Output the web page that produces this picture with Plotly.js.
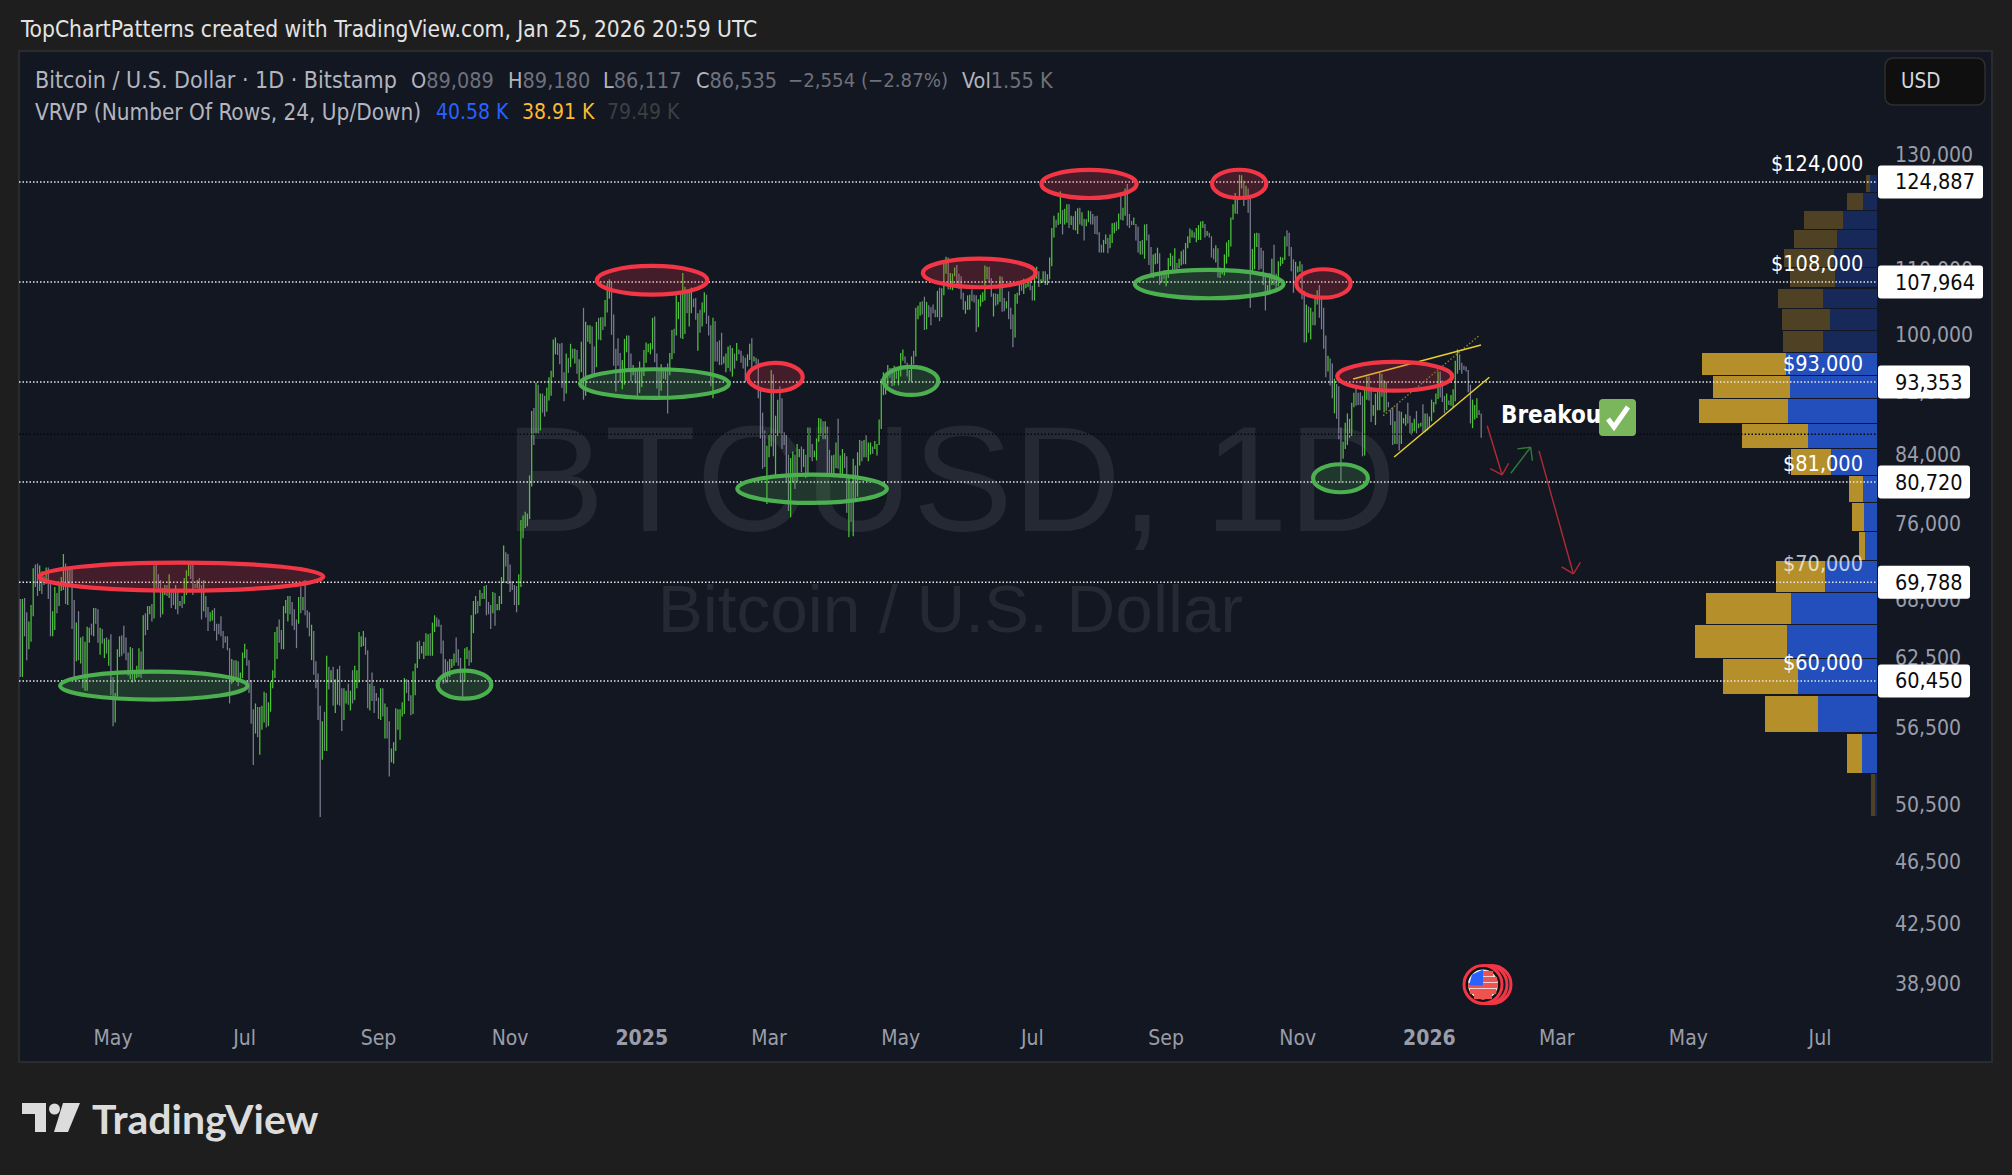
<!DOCTYPE html>
<html>
<head>
<meta charset="utf-8">
<script src="https://cdn.plot.ly/plotly-3.0.1.min.js"></script>
<style>html,body{margin:0;padding:0;background:#1e1e1e}</style>
</head>
<body>
<div id="chart" style="width:2012px;height:1175px"></div>
<script>
// daily bars, one row per month, price in thousands of dollars. first bar is 2024-03-19
const firstBar = "2024-03-19"
const barLowK = [
60.8,60.8,64.5,62.3,63.3,64.0,66.4,69.3,68.4,68.9,68.6,69.5,69.6,
68.1,64.5,64.5,65.1,66.7,67.4,68.9,69.0,67.6,67.5,69.6,65.2,60.8,62.2,62.3,62.0,59.8,59.6,59.6,63.9,64.6,64.5,65.7,63.9,62.8,63.8,62.5,62.9,61.8,59.2,
56.6,56.9,58.8,62.6,62.7,62.9,62.3,60.9,60.6,60.3,60.5,60.7,60.8,60.7,61.3,64.6,65.1,66.6,65.9,66.2,69.2,69.1,66.3,66.6,68.5,68.4,68.2,67.2,67.5,67.1,66.6,
67.4,67.2,67.6,68.5,70.4,70.1,68.5,69.2,69.2,69.1,66.1,66.9,66.3,65.0,65.9,66.0,65.0,64.1,64.7,64.5,63.4,63.9,63.2,58.5,60.2,60.7,60.6,60.0,60.4,60.7,
62.5,61.8,59.4,56.8,53.5,56.0,55.7,54.3,56.3,56.9,56.5,56.6,57.8,59.8,60.7,62.4,63.9,63.3,63.3,66.7,65.9,66.6,65.5,65.1,63.4,65.7,66.7,67.0,66.5,65.3,64.5,
62.3,61.0,59.8,57.1,49.6,53.9,54.6,54.6,59.7,60.3,58.3,57.7,58.4,58.3,56.2,57.1,58.5,58.4,57.9,58.5,58.8,59.8,60.3,63.5,63.6,62.8,58.1,57.9,58.7,57.7,58.7,
57.2,57.1,57.4,55.6,55.6,52.6,53.7,53.6,54.6,56.3,55.5,57.4,57.6,59.4,58.7,57.5,57.6,59.2,61.6,62.4,62.9,62.4,62.7,62.7,62.7,62.7,64.9,65.4,65.4,62.9,
60.2,60.3,60.3,60.8,61.6,61.8,62.1,61.8,60.3,58.9,60.4,62.4,61.8,62.1,64.8,66.6,66.7,67.4,68.1,68.1,66.5,66.6,65.2,66.7,65.5,67.0,67.0,67.6,69.7,71.4,69.6,
68.8,69.0,67.5,66.8,67.5,69.3,74.4,75.5,75.7,76.5,80.2,85.2,86.7,86.6,87.0,89.3,88.8,89.4,90.9,91.5,94.0,97.2,97.1,95.8,92.6,90.8,91.8,94.6,95.4,96.6,
95.9,94.5,93.6,94.7,91.0,91.5,99.0,98.7,94.2,94.2,95.4,99.3,99.2,100.7,101.2,103.3,105.4,100.0,95.6,92.1,95.6,93.4,92.4,93.0,97.5,95.2,93.5,94.3,93.2,91.3,91.9,
92.7,94.2,96.0,97.5,97.2,97.9,96.1,92.5,91.2,92.2,93.8,93.7,89.2,94.3,96.5,97.3,99.9,102.3,99.5,99.4,100.1,103.2,101.2,103.2,104.1,102.2,97.7,100.3,101.2,103.3,101.6,
99.9,92.8,91.2,96.2,96.2,95.7,95.7,95.9,94.7,95.3,94.8,94.1,95.2,96.3,97.2,96.0,95.2,93.3,95.5,96.4,94.8,96.2,95.8,91.2,86.0,82.3,82.5,78.2,
83.7,85.0,83.8,81.5,86.3,86.7,84.7,85.2,80.7,77.4,76.7,80.7,79.9,80.8,83.7,81.9,82.5,81.2,81.7,83.7,83.2,83.7,83.3,85.6,86.3,85.9,85.9,81.6,81.5,81.6,81.3,
82.4,82.3,81.2,81.6,82.4,77.2,74.5,76.2,74.6,78.5,79.0,82.7,83.2,83.7,83.7,83.2,84.0,84.1,84.7,83.9,85.2,87.2,91.6,91.7,92.9,93.9,92.8,92.9,93.8,92.9,
94.1,96.3,95.9,94.1,93.5,93.4,95.8,96.9,102.3,102.8,103.0,100.7,100.8,102.6,101.4,103.2,102.6,102.6,102.0,102.6,105.9,109.3,106.8,106.8,106.7,108.9,107.5,106.9,105.3,103.7,103.1,
103.7,103.7,105.0,104.8,100.4,101.1,104.2,104.9,105.1,108.4,108.0,105.7,102.7,104.3,104.5,104.9,103.4,103.5,103.9,102.3,100.8,98.2,99.6,104.6,105.9,106.6,106.1,107.0,107.2,106.7,
105.1,105.1,108.5,107.2,107.8,107.9,107.5,107.5,108.4,110.5,115.2,116.9,117.3,117.5,115.7,117.4,117.7,116.8,117.3,116.5,116.4,115.8,117.4,117.2,114.7,117.1,117.8,117.4,117.4,115.8,115.7,
112.7,112.7,112.7,114.1,112.6,113.4,114.3,115.9,116.3,116.6,118.2,118.1,118.9,117.2,116.8,117.3,117.3,114.7,112.7,112.4,112.4,111.7,114.7,110.7,108.7,108.6,110.8,110.9,107.5,107.9,108.4,
107.3,108.6,110.5,109.3,110.0,109.9,110.2,110.6,110.8,110.8,113.4,114.3,115.2,115.1,114.4,114.8,114.8,116.8,115.2,115.5,115.2,111.9,111.6,111.1,108.7,108.6,109.2,109.0,110.9,112.0,
113.7,118.2,119.3,119.2,122.0,123.7,120.6,121.7,119.4,104.0,109.6,110.0,113.6,109.9,110.1,107.5,103.6,106.2,106.2,107.5,107.5,106.7,107.3,110.5,110.9,111.5,113.7,112.1,109.7,106.3,108.2,
109.5,109.6,105.3,98.9,98.9,100.3,99.3,101.4,101.4,104.5,102.5,100.8,98.0,94.0,94.8,92.9,91.2,89.2,88.5,85.9,80.6,83.5,84.7,85.2,86.1,86.3,90.0,90.2,90.3,90.3,
83.8,83.9,91.0,90.9,88.1,88.9,87.7,89.6,89.6,91.4,89.3,89.5,90.0,87.7,85.2,85.3,85.3,84.5,85.3,87.9,87.6,87.9,86.6,86.4,86.9,86.6,87.3,87.5,86.8,86.8,87.0,
87.4,88.2,89.3,90.4,91.1,91.3,90.7,89.2,89.6,90.3,90.2,90.0,90.8,94.5,95.0,94.5,95.0,94.8,92.0,87.9,87.3,88.4,88.6,89.0,86.1
]
const barHighK = [
68.1,68.1,68.2,66.8,65.9,67.5,71.2,71.6,71.7,71.5,70.9,70.4,71.3,
71.3,69.7,66.9,69.3,68.7,69.6,70.3,72.7,71.7,71.2,71.3,71.2,68.0,65.8,66.9,64.4,64.5,64.0,65.4,65.3,65.7,67.2,67.2,67.1,65.3,65.2,64.3,64.4,64.2,64.7,
60.8,59.4,63.3,64.5,64.6,65.5,64.4,63.0,63.5,63.4,61.4,61.8,63.4,63.1,66.5,66.7,67.4,67.4,67.6,71.5,71.9,70.6,70.0,69.2,69.5,69.5,70.6,69.0,68.9,69.5,69.0,
67.9,68.4,70.2,71.0,71.7,71.6,71.9,69.6,70.0,70.2,69.5,70.0,68.4,67.3,66.8,67.0,67.2,65.7,65.7,66.4,65.0,64.5,64.5,63.4,62.4,62.3,62.3,62.2,61.2,63.0,
63.8,63.3,62.3,60.5,58.0,58.5,58.2,58.2,58.3,59.5,59.4,58.6,60.4,61.4,64.9,65.4,66.1,65.1,67.4,68.0,68.4,68.4,67.8,67.1,66.1,68.3,69.3,68.3,70.0,67.0,66.8,
65.6,65.0,62.2,61.1,58.3,57.0,57.8,62.7,61.7,61.4,61.7,60.6,61.5,61.8,59.8,59.8,59.6,60.2,59.6,61.4,61.8,61.4,64.9,64.5,65.0,64.4,63.2,60.2,61.2,60.0,59.4,
59.0,59.8,59.8,58.5,58.2,57.0,54.8,55.3,58.1,58.0,58.0,58.6,60.7,60.6,60.4,59.2,61.3,62.0,64.0,64.1,63.6,64.0,64.8,64.7,64.8,65.8,66.5,66.3,66.1,65.6,
64.1,62.4,62.2,62.4,62.4,62.9,64.4,63.3,62.5,61.3,63.4,63.5,63.2,66.5,67.9,68.4,67.9,69.0,68.7,69.4,69.5,67.8,67.5,68.8,68.7,67.6,68.4,70.3,73.6,72.9,72.7,
71.6,69.9,69.5,69.4,70.6,76.4,76.9,77.3,77.1,81.5,89.5,89.9,93.3,93.0,91.8,91.8,91.5,92.6,94.0,94.9,99.3,99.6,98.8,98.7,98.8,94.7,97.3,96.7,98.7,98.0,
98.0,97.8,96.5,99.0,104.0,101.9,101.4,101.4,101.2,98.3,101.9,102.5,102.6,102.6,105.2,107.8,108.4,108.0,103.0,98.0,99.5,97.4,96.4,99.4,99.9,99.9,97.3,95.7,95.3,94.9,96.2,
94.9,97.8,98.9,98.7,98.8,102.5,102.7,97.3,95.3,95.8,95.0,95.4,95.9,97.4,100.7,100.9,105.9,104.9,106.3,109.4,107.2,106.3,106.9,107.1,105.4,105.5,103.2,103.7,104.8,106.4,106.0,
102.8,101.4,102.5,102.0,99.0,99.2,100.3,96.9,97.3,98.3,98.5,98.1,97.3,98.8,97.9,97.7,97.0,96.7,97.2,98.7,99.5,96.9,96.7,96.5,92.5,89.3,87.0,85.1,
86.5,95.0,94.4,88.9,91.0,92.8,91.2,86.8,86.5,84.0,83.6,84.4,84.0,85.3,84.7,85.0,84.7,84.0,87.4,87.4,85.3,84.5,86.0,88.6,88.5,88.2,88.2,87.5,84.6,83.9,84.0,
85.5,88.5,83.9,84.7,84.2,83.8,81.2,80.8,83.5,82.7,84.3,85.8,85.7,85.8,86.4,85.5,85.5,85.0,85.7,85.3,88.4,93.8,94.7,94.0,95.7,95.3,95.3,95.6,95.4,95.2,
97.4,97.9,96.9,96.0,95.0,96.9,97.7,104.0,104.3,104.9,105.0,105.7,104.9,104.4,104.1,104.5,103.7,106.6,107.1,107.0,111.0,112.0,111.9,109.4,109.3,110.3,110.7,109.3,108.9,106.3,105.0,
105.9,106.0,106.8,106.0,105.9,105.3,106.0,106.4,110.6,110.4,110.4,108.6,106.2,106.2,106.1,108.9,108.8,105.5,105.0,106.5,104.0,103.0,106.1,106.3,108.1,108.3,108.5,107.7,108.5,108.8,
107.4,109.8,110.4,109.7,108.4,109.7,109.7,109.2,111.9,116.8,118.9,118.2,119.4,123.2,119.9,120.1,120.9,120.9,118.9,118.8,119.7,120.2,120.3,119.5,118.4,118.3,119.8,119.7,119.2,118.8,118.9,
116.1,114.0,114.8,115.7,115.1,115.7,117.6,117.7,117.9,119.3,122.3,120.3,123.7,124.5,119.2,118.0,118.6,117.5,117.0,114.6,114.8,117.4,117.5,115.7,113.6,112.4,112.6,113.5,112.6,109.0,109.9,
109.9,111.8,112.6,112.2,113.4,111.0,111.7,112.9,113.2,114.3,115.4,116.7,116.4,116.1,116.8,117.3,117.9,118.0,117.5,116.3,116.0,115.4,113.4,113.9,113.4,110.3,109.8,112.4,114.4,114.8,
118.6,120.9,122.9,122.1,126.2,126.1,125.1,124.2,123.7,122.5,113.3,115.9,116.0,115.9,113.5,113.0,109.0,107.5,109.4,111.7,114.0,109.3,111.3,112.0,111.9,115.4,116.4,116.0,113.6,111.6,111.2,
110.5,111.3,110.8,106.6,104.5,104.2,104.0,103.4,105.4,106.7,107.5,105.3,104.0,99.9,97.0,96.6,95.9,93.8,93.1,92.8,87.4,85.6,88.0,89.2,88.5,90.6,91.9,93.0,91.9,92.0,
91.5,92.3,94.1,94.1,92.7,90.3,91.8,92.3,94.6,94.5,93.6,93.4,90.7,89.7,90.0,88.2,90.4,89.5,89.4,88.6,89.1,90.6,88.9,88.0,88.5,89.5,87.9,88.0,90.4,89.2,89.2,
88.8,91.0,90.7,91.8,94.8,94.8,93.6,91.5,91.8,90.9,91.6,92.4,96.3,97.9,97.2,96.0,95.6,95.5,95.0,93.0,91.0,90.3,91.2,89.6,89.2
]
// u = closed up (green), d = closed down (grey)
const barDir = [
"d u d d u u u d d u d d u",
"d d u u d u u u d u d d d u d u d u u u d u d d u d u d u d",
"d u u u d d d d u d u u u d u d u u d u d d d u u d u d d u d",
"u d u u u d d d u d d u d d u u d d d d d d d d u d u d u u",
"u d d d d u d u u u d u u u u u d d u u u d d d d u d u d d d",
"u d d d d u d u d u d u u d d u u d u d u u u u u d d u d d d",
"d u d u d d u u u u u u u d d d u u u d u u u u d u u d d d",
"d d d u u u d d d d u u d u u u d u d u d d d u d u u u u d d",
"d d d d u u u u u u u d u d u d d u u u u u d d d d u d u d",
"u d u u d u u u d d u d u d u u u d d d d d u u u d d u d d u",
"u u u u u u d d d u d u d u u d u u d u u d u u d d u d u u d",
"d d u d d d d u u u d u d u d d d d u u d u d d d d d u",
"u u d u u d d d d d u u d u u d u d u d d u u u u d u d d u u",
"u d u u d d u d u d u u d u d u u d u u u u u u u d d u d u",
"u u d d u u d u u u d d u d d d d u d u u u d u u u d d d d u",
"u u d d d u u u u u d d u d u u d d u d d d u u u d u u u d",
"d u u d u u d u u u u d u u d u u d u d u u d u d u u d d d d",
"d d u u d u u u d u d u u d d d u d d u d u d d d u u u d u d",
"u u u d u d u u d u u u u d u u u u d u d d d u d u u u u u",
"u u u d u u d u d d u u u d d d d u u u d d u u u u d d d d u",
"u u d d u d u d u u d d d d u d d u d d d u u u u u u d d d",
"d u u d d u u u u d u d d d d u d d u u u d d u u d u u d u d",
"u u u u u d d d u d u u u u d d d d d d u u u d d"
].join(" ").split(" ")

// volume profile, top row first, volume per row
const profileBottom = 49660
const profileStep = 3188
const profileUp = [250,498,1210,1424,1531,1495,1922,1673,1922,3240,3097,3168,2456,1638,498,463,427,1851,3062,3204,2812,2100,534,71]
const profileDown = [142,570,1388,1531,1780,1602,1602,1709,1424,2990,2741,3168,2350,1424,498,427,214,1744,3026,3275,2670,1887,534,142]
const profileInValueArea = [0,0,0,0,0,0,0,0,0,1,1,1,1,1,1,1,1,1,1,1,1,1,1,0]

// price axis and time axis
const priceTicks = [130000,110000,100000,92000,84000,76000,68000,62500,56500,50500,46500,42500,38900]
const timeTicks = ["2024-05-01","2024-07-01","2024-09-01","2024-11-01","2025-01-01","2025-03-01","2025-05-01","2025-07-01","2025-09-01","2025-11-01","2026-01-01","2026-03-01","2026-05-01","2026-07-01"]
const timeLabels = ["May","Jul","Sep","Nov","<b>2025</b>","Mar","May","Jul","Sep","Nov","<b>2026</b>","Mar","May","Jul"]

// horizontal levels
const levels = [124887,107964,93353,80720,69788,60450]
const levelTexts = ["$124,000","$108,000","$93,000","$81,000","$70,000","$60,000"]
const levelBoxes = ["124,887","107,964","93,353","80,720","69,788","60,450"]
const lastClose = 86535

// hand drawn ellipses, stroke centre: from date, to date, top price, bottom price
const redEllipses = [
["2024-03-27 16:00","2024-08-06 10:00",71795,68930],
["2024-12-11 05:00","2025-01-31 10:00",110527,106010],
["2025-02-19 02:00","2025-03-16 14:00",95987,92115],
["2025-05-11 07:00","2025-07-02 12:00",111707,107155],
["2025-07-05 05:00","2025-08-18 07:00",127086,122014],
["2025-09-22 07:00","2025-10-17 10:00",127130,122014],
["2025-10-31 07:00","2025-11-25 12:00",109999,105546],
["2025-11-19 07:00","2026-01-11 14:00",96125,92198]
]
const greenEllipses = [
["2024-04-06 12:00","2024-07-02 07:00",61273,58826],
["2024-09-28 10:00","2024-10-23 07:00",61362,58911],
["2024-12-03 10:00","2025-02-10 10:00",95111,91224],
["2025-02-14 07:00","2025-04-24 14:00",81598,78305],
["2025-04-23 02:00","2025-05-18 10:00",95429,91624],
["2025-08-17 12:00","2025-10-25 10:00",109887,105455],
["2025-11-08 02:00","2025-12-03 12:00",82840,79535]
]
// trend lines and arrows: from date, from price, to date, to price
const yellowLines = [
["2025-11-26 16:00",93780,"2026-01-24 22:00",98536],
["2025-12-15 16:00",83721,"2026-01-28 19:00",94008]
]
const yellowDotted = [["2025-12-10 14:00",88911,"2026-01-24 00:00",99871]]
const redArrows = [
["2026-01-27 19:00",87619,"2026-02-03 17:00",81559],
["2026-01-29 05:00",82312,"2026-02-03 17:00",81559],
["2026-02-06 17:00",82962,"2026-02-03 17:00",81559],
["2026-02-20 19:00",84460,"2026-03-08 17:00",70624],
["2026-03-03 07:00",71345,"2026-03-08 17:00",70624],
["2026-03-12 00:00",71835,"2026-03-08 17:00",70624]
]
const greenArrows = [
["2026-02-07 17:00",81762,"2026-02-16 22:00",84915],
["2026-02-10 19:00",84706,"2026-02-16 22:00",84915],
["2026-02-17 17:00",83278,"2026-02-16 22:00",84915]
]

// page geometry, pixels
const W=2012, H=1175, L=19, R=1877, T=51, B=1012
const yMin=37350, yMax=151090
const xp=x=>(x-L)/(R-L)
const yp=y=>(B-y)/(B-T)
const priceY=p=>T+(Math.log10(yMax)-Math.log10(p))/(Math.log10(yMax)-Math.log10(yMin))*(B-T)
const FONT="DejaVu Sans Condensed"

function barTraces(){
let t0=Date.parse(firstBar+"T00:00:00Z")
let upX=[],upY=[],downX=[],downY=[]
barLowK.forEach((lo,i)=>{
let d=new Date(t0+i*86400000).toISOString().slice(0,10)
let xs=barDir[i]=="u"?upX:downX
let ys=barDir[i]=="u"?upY:downY
xs.push(d,d,null)
ys.push(lo*1000,barHighK[i]*1000,null)
})
return [
{x:downX,y:downY,type:"scatter",mode:"lines",line:{color:"#7a7d90",width:1.25,simplify:false},hoverinfo:"skip"},
{x:upX,y:upY,type:"scatter",mode:"lines",line:{color:"#4cc437",width:1.25,simplify:false},hoverinfo:"skip"}
]
}

function profileTraces(){
// a log axis takes bar centres and widths in plain price
let centers=[],widths=[]
profileUp.forEach((v,i)=>{
let hi=profileBottom+profileStep*(24-i)
let mid=hi-profileStep/2
centers.push(mid)
widths.push(profileStep-mid*0.0016)
})
let base={y:centers,width:widths,type:"bar",orientation:"h",xaxis:"x2",yaxis:"y",hoverinfo:"skip"}
return [
{...base,x:profileUp,marker:{color:profileInValueArea.map(v=>v?"#224fbc":"#172958"),line:{width:0}}},
{...base,x:profileDown,marker:{color:profileInValueArea.map(v=>v?"#b48f2a":"#4e4124"),line:{width:0}}}
]
}

function watermark(){
return [
{x:["2025-05-24"],y:[79336],type:"scatter",mode:"text",text:["BTCUSD, 1D"],textposition:"middle center",textfont:{family:"Liberation Sans",size:150,color:"#252933"},hoverinfo:"skip"},
{x:["2025-05-24"],y:[66540],type:"scatter",mode:"text",text:["Bitcoin / U.S. Dollar"],textposition:"middle center",textfont:{family:"Liberation Sans",size:67.5,color:"#252933"},hoverinfo:"skip"}
]
}

function box(x0,y0,x1,y1,fill,line,r){
// rounded box in pixels
let p=(x,y)=>xp(x)+","+yp(y)
let path="M"+p(x0+r,y0)+" L"+p(x1-r,y0)+" Q"+p(x1,y0)+" "+p(x1,y0+r)+" L"+p(x1,y1-r)+" Q"+p(x1,y1)+" "+p(x1-r,y1)+" L"+p(x0+r,y1)+" Q"+p(x0,y1)+" "+p(x0,y1-r)+" L"+p(x0,y0+r)+" Q"+p(x0,y0)+" "+p(x0+r,y0)+" Z"
return {type:"path",xref:"paper",yref:"paper",path:path,fillcolor:fill,line:{color:line||fill,width:line?1.5:0},layer:"above"}
}
function poly(points,fill){
let path="M"+points.map(q=>xp(q[0])+","+yp(q[1])).join(" L")+" Z"
return {type:"path",xref:"paper",yref:"paper",path:path,fillcolor:fill,line:{width:0},layer:"above"}
}
function disc(cx,cy,r,fill,line,w){
return {type:"circle",xref:"paper",yref:"paper",x0:xp(cx-r),x1:xp(cx+r),y0:yp(cy+r),y1:yp(cy-r),fillcolor:fill,line:{color:line||fill,width:w||0},layer:"above"}
}
function ellipse(e,line,fill){
return {type:"circle",xref:"x",yref:"y",x0:e[0],x1:e[1],y0:e[3],y1:e[2],fillcolor:fill,line:{color:line,width:4.2},layer:"above"}
}
function seg(s,color,width,dash){
return {type:"line",xref:"x",yref:"y",x0:s[0],y0:s[1],x1:s[2],y1:s[3],line:{color:color,width:width,dash:dash||"solid"},layer:"above"}
}

function buildShapes(){
let s=[]
// panel behind the plot
s.push({type:"rect",xref:"paper",yref:"paper",x0:xp(19),x1:xp(1992),y0:yp(1062),y1:yp(51),fillcolor:"#131722",line:{color:"#2a2b2e",width:2},layer:"below"})
// levels
levels.forEach(p=>s.push({type:"line",xref:"paper",yref:"y",x0:0,x1:1,y0:p,y1:p,line:{color:"#e8e8e8",width:1.5,dash:"1.5px,2px"},layer:"above"}))
s.push({type:"line",xref:"paper",yref:"y",x0:0,x1:1,y0:lastClose,y1:lastClose,line:{color:"#05070c",width:1.5,dash:"1.5px,2px"},layer:"above"})
yellowDotted.forEach(l=>s.push(seg(l,"#8f7f2a",1.4,"1.5px,2px")))
yellowLines.forEach(l=>s.push(seg(l,"#e6cf2e",1.5)))
redEllipses.forEach(e=>s.push(ellipse(e,"#f23645","rgba(242,54,69,0.22)")))
greenEllipses.forEach(e=>s.push(ellipse(e,"#4caf50","rgba(76,175,80,0.22)")))
redArrows.forEach(l=>s.push(seg(l,"#b02a37",1.4)))
greenArrows.forEach(l=>s.push(seg(l,"#2f7d36",1.4)))
// price boxes
levels.forEach((p,i)=>{
let y=priceY(p)
let right=levelBoxes[i].length>6?1983:1970
s.push(box(1878,y-16.5,right,y+16.5,"#ffffff",null,3))
})
// USD button
s.push(box(1885,58,1985,105,"#0f0f0f","#2e2e2e",9))
// breakout tick
s.push(box(1599,399,1636,436,"#7bb55c",null,4))
s.push({type:"path",xref:"paper",yref:"paper",path:"M"+xp(1608)+","+yp(419)+" L"+xp(1614)+","+yp(427)+" L"+xp(1628)+","+yp(407),line:{color:"#ffffff",width:5},layer:"above"})
// calendar flag
const flagY=984.5
;[1492,1488].forEach(c=>s.push(disc(c,flagY,19,"#131722","#f23645",3)))
s.push(disc(1483,flagY,19,"#111111","#f23645",3))
s.push(disc(1483,flagY,15,"#f0f0f0"))
;[-11,-5,1,7,12].forEach((dy,i)=>{
let r=15,a=Math.sqrt(Math.max(r*r-dy*dy,1))
let x0=i<2?1483:1483-a
s.push({type:"rect",xref:"paper",yref:"paper",x0:xp(x0),x1:xp(1483+a),y0:yp(flagY+dy+2.6),y1:yp(flagY+dy-2.6),fillcolor:"#ef5350",line:{width:0},layer:"above"})
})
s.push(poly([[1472,flagY-10],[1483,flagY-15],[1483,flagY+1],[1469,flagY+1]],"#2962ff"))
// logo
s.push(poly([[22,1103],[46,1103],[46,1132],[35,1132],[35,1114],[22,1114]],"#dcdcdc"))
s.push(disc(54.5,1109,5.5,"#dcdcdc"))
s.push(poly([[63,1103],[80,1103],[68,1132],[54,1132]],"#dcdcdc"))
return s
}

function label(text,x,y,size,color,anchor,family,bold){
return {text:bold?"<b>"+text+"</b>":text,xref:"paper",yref:"paper",x:xp(x),y:yp(y),xanchor:anchor||"left",yanchor:"middle",showarrow:false,borderpad:0,font:{family:family||FONT,size:size,color:color}}
}

function buildLabels(){
let a=[]
const grey="#6e717c", light="#b2b5be"
a.push(label("TopChartPatterns created with TradingView.com, Jan 25, 2026 20:59 UTC",19,29,22.6,"#e3e3e3"))
a.push(label("Bitcoin / U.S. Dollar · 1D · Bitstamp",34,80,23,light))
a.push(label("O<span style='color:"+grey+"'>89,089</span>",410,80,21.5,light))
a.push(label("H<span style='color:"+grey+"'>89,180</span>",507,80,21.5,light))
a.push(label("L<span style='color:"+grey+"'>86,117</span>",602,80,21.5,light))
a.push(label("C<span style='color:"+grey+"'>86,535</span>",695,80,21.5,light))
a.push(label("−2,554 (−2.87%)",787,80,20.2,grey))
a.push(label("Vol<span style='color:"+grey+"'>1.55 K</span>",961,80,21.5,light))
a.push(label("VRVP (Number Of Rows, 24, Up/Down)",34,112,22.4,light))
a.push(label("40.58 K",435,112,21,"#2962ff"))
a.push(label("38.91 K",521,112,21,"#ffb92e"))
a.push(label("79.49 K",606,112,21,"#3d3e42"))
levels.forEach((p,i)=>{
let y=priceY(p)
a.push(label(levelTexts[i],1864,y-18.5,21.5,i==4?"rgba(255,255,255,0.72)":"#ffffff","right"))
a.push(label(levelBoxes[i],1894,y,21.5,"#0c0c0c"))
})
a.push(label("USD",1921,81,20.5,"#d6d8de","center"))
a.push(label("Breakou",1500,415,24,"#ffffff","left",FONT,true))
a.push(label("TradingView",91,1118,41,"#dcdcdc","left","Lato",true))
return a
}

let traces=[...watermark(),...barTraces(),...profileTraces()]

let layout={
width:W,height:H,
margin:{l:L,r:W-R,t:T,b:H-B,pad:0},
paper_bgcolor:"#1e1e1e",plot_bgcolor:"rgba(0,0,0,0)",
showlegend:false,barmode:"stack",bargap:0,
xaxis:{type:"date",range:["2024-03-18 10:00","2026-07-27 10:00"],tickmode:"array",tickvals:timeTicks,ticktext:timeLabels,showgrid:false,zeroline:false,showline:false,ticks:"",tickangle:0,ticklabelstandoff:11,tickfont:{family:FONT,size:21,color:"#9a9da8"}},
xaxis2:{overlaying:"x",anchor:"y",side:"top",visible:false,range:[66145,0],fixedrange:true},
yaxis:{type:"log",side:"right",range:[Math.log10(yMin),Math.log10(yMax)],tickmode:"array",tickvals:priceTicks,ticktext:priceTicks.map(v=>v.toLocaleString("en-US")),showgrid:false,zeroline:false,showline:false,ticks:"",ticklabelstandoff:17,tickfont:{family:FONT,size:21,color:"#9a9da8"}},
shapes:buildShapes(),
annotations:buildLabels()
}

Plotly.newPlot("chart",traces,layout,{displayModeBar:false,staticPlot:true})
</script>
</body>
</html>
